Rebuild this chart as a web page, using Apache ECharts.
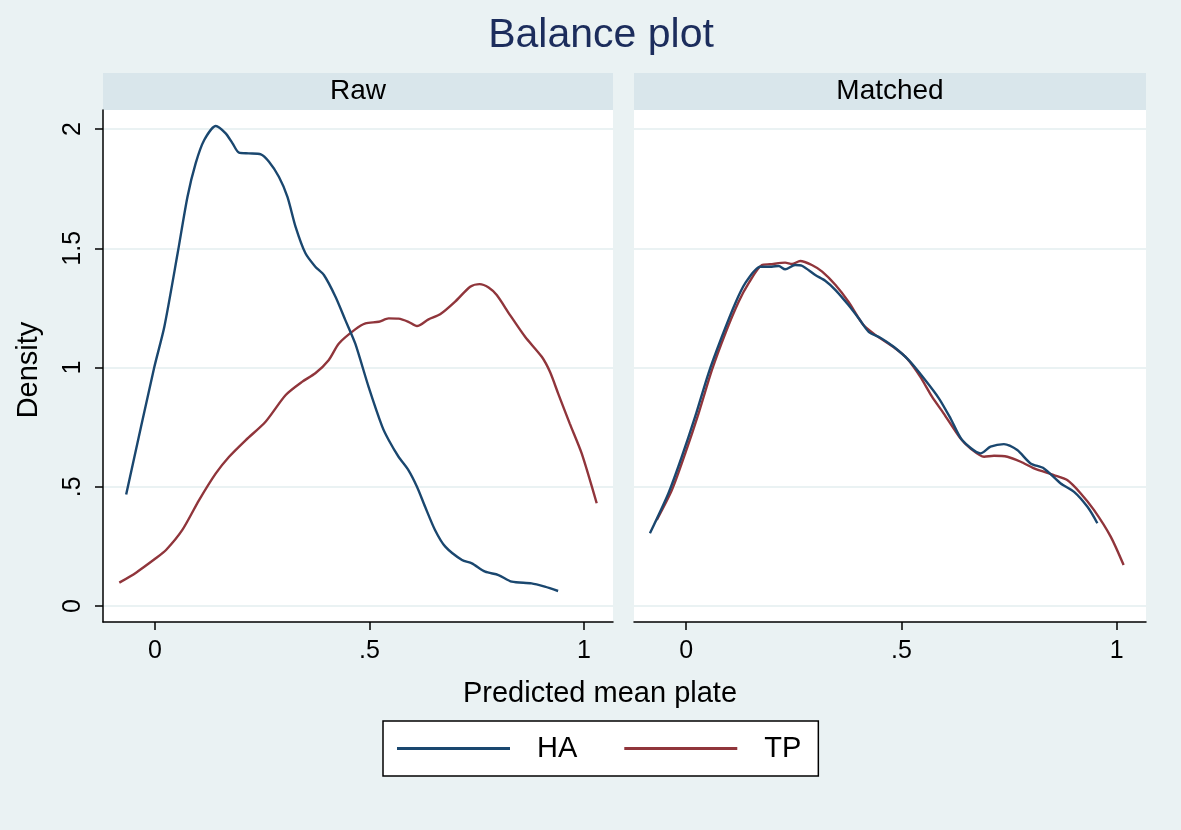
<!DOCTYPE html>
<html><head><meta charset="utf-8">
<script src="https://cdn.jsdelivr.net/npm/echarts@6/dist/echarts.min.js"></script>
<style>html,body{margin:0;padding:0;background:#eaf2f3}#c{width:1181px;height:830px}</style>
</head><body><div id="c"></div>
<script>
const panels = ['Raw', 'Matched'];
const seriesNames = ['HA', 'TP'];
const xTicks = [0, 0.5, 1];
const yTicks = [0, 0.5, 1, 1.5, 2];
const xTickLabels = {0: '0', 0.5: '.5', 1: '1'};
const yTickLabels = {0: '0', 0.5: '.5', 1: '1', 1.5: '1.5', 2: '2'};

const rawHA = [[-0.067,0.468],[-0.002,0.997],[0.022,1.171],[0.053,1.479],[0.076,1.716],[0.095,1.856],[0.115,1.954],[0.142,2.013],[0.165,1.982],[0.181,1.94],[0.196,1.901],[0.219,1.898],[0.247,1.894],[0.266,1.863],[0.289,1.80],[0.309,1.716],[0.328,1.590],[0.351,1.479],[0.374,1.423],[0.394,1.388],[0.421,1.297],[0.444,1.199],[0.467,1.101],[0.498,0.92],[0.530,0.752],[0.545,0.696],[0.568,0.626],[0.591,0.570],[0.611,0.500],[0.630,0.416],[0.653,0.319],[0.677,0.249],[0.716,0.193],[0.739,0.179],[0.770,0.144],[0.801,0.130],[0.832,0.102],[0.878,0.095],[0.909,0.081],[0.940,0.063]];
const rawTP = [[-0.083,0.098],[-0.044,0.14],[0.002,0.20],[0.026,0.235],[0.064,0.319],[0.103,0.444],[0.142,0.556],[0.173,0.626],[0.212,0.696],[0.258,0.773],[0.305,0.885],[0.343,0.940],[0.374,0.976],[0.405,1.031],[0.429,1.101],[0.467,1.160],[0.491,1.185],[0.522,1.192],[0.545,1.206],[0.568,1.205],[0.591,1.192],[0.611,1.174],[0.638,1.202],[0.665,1.223],[0.700,1.276],[0.735,1.339],[0.757,1.350],[0.778,1.336],[0.797,1.304],[0.828,1.220],[0.863,1.129],[0.902,1.045],[0.921,0.982],[0.940,0.892],[0.967,0.766],[0.995,0.640],[1.030,0.431]];
const matchedHA = [[-0.084,0.305],[-0.041,0.473],[-0.010,0.626],[0.021,0.794],[0.052,0.976],[0.083,1.129],[0.114,1.269],[0.137,1.353],[0.172,1.423],[0.199,1.423],[0.215,1.426],[0.230,1.412],[0.253,1.430],[0.269,1.427],[0.300,1.388],[0.323,1.364],[0.347,1.325],[0.377,1.262],[0.401,1.206],[0.424,1.150],[0.451,1.125],[0.482,1.087],[0.517,1.031],[0.552,0.955],[0.587,0.871],[0.614,0.787],[0.641,0.696],[0.684,0.640],[0.707,0.668],[0.738,0.679],[0.769,0.654],[0.800,0.598],[0.831,0.577],[0.870,0.514],[0.901,0.479],[0.932,0.416],[0.955,0.347]];
const matchedTP = [[-0.068,0.361],[-0.033,0.486],[-0.002,0.640],[0.029,0.808],[0.060,0.990],[0.091,1.143],[0.122,1.276],[0.145,1.353],[0.176,1.430],[0.195,1.433],[0.230,1.440],[0.246,1.434],[0.265,1.447],[0.292,1.430],[0.316,1.402],[0.347,1.346],[0.377,1.276],[0.412,1.178],[0.440,1.136],[0.486,1.080],[0.513,1.038],[0.544,0.961],[0.571,0.878],[0.598,0.808],[0.637,0.703],[0.660,0.661],[0.692,0.626],[0.715,0.630],[0.746,0.626],[0.777,0.605],[0.808,0.577],[0.854,0.549],[0.885,0.528],[0.916,0.473],[0.947,0.403],[0.986,0.291],[1.016,0.172]];

const FONT = '"Liberation Sans", Arial, Helvetica, sans-serif';
const NAVY = '#1a476f', MAROON = '#90353b';
const grids = [
  {left: 103, top: 110, width: 510, height: 512},
  {left: 634, top: 110, width: 512, height: 512}
];
const xMin = -0.121, xMax = 1.068, yMin = -0.067, yMax = 2.08;

function xAxis(i) {
  return {
    gridIndex: i, type: 'value', min: xMin, max: xMax,
    axisLine: {show: true, onZero: false, lineStyle: {color: '#000', width: 1.5}},
    axisTick: {show: true, length: 8, customValues: xTicks, lineStyle: {color: '#000', width: 1.5}},
    axisLabel: {customValues: xTicks, formatter: v => xTickLabels[v] ?? String(v), color: '#000', fontFamily: FONT, fontSize: 25, margin: 17},
    splitLine: {show: false}
  };
}
function yAxis(i) {
  return {
    gridIndex: i, type: 'value', min: yMin, max: yMax,
    axisLine: {show: i === 0, onZero: false, lineStyle: {color: '#000', width: 1.5}},
    axisTick: {show: i === 0, length: 8, customValues: yTicks, lineStyle: {color: '#000', width: 1.5}},
    axisLabel: {show: i === 0, customValues: yTicks, rotate: 90, formatter: v => yTickLabels[v] ?? String(v), color: '#000', fontFamily: FONT, fontSize: 25, margin: 17},
    splitLine: {show: true, lineStyle: {color: '#eaf2f3', width: 2}}
  };
}
const data = [[rawHA, rawTP], [matchedHA, matchedTP]];
const series = [];
for (let p = 0; p < 2; p++) {
  for (let s = 0; s < 2; s++) {
    series.push({
      name: seriesNames[s], type: 'line', xAxisIndex: p, yAxisIndex: p,
      data: data[p][s], showSymbol: false, smooth: 0.25,
      lineStyle: {color: s === 0 ? NAVY : MAROON, width: 2.4},
      itemStyle: {color: s === 0 ? NAVY : MAROON},
      z: s === 0 ? 3 : 2
    });
  }
}
const graphics = [];
grids.forEach((g, i) => {
  graphics.push({type: 'rect', shape: {x: g.left, y: g.top, width: g.width, height: g.height}, style: {fill: '#ffffff'}, z: -10, silent: true});
  graphics.push({type: 'rect', shape: {x: g.left, y: 73, width: g.width, height: 37}, style: {fill: '#d9e6eb'}, z: -10, silent: true});
  graphics.push({type: 'text', x: g.left + g.width / 2, y: 91, style: {text: panels[i], font: '28px ' + FONT, fill: '#000', align: 'center', verticalAlign: 'middle'}, z: 5});
});
graphics.push({type: 'text', x: 601, y: 36, style: {text: 'Balance plot', font: '41px ' + FONT, fill: '#1c2d5c', align: 'center', verticalAlign: 'middle'}});
graphics.push({type: 'text', x: 600, y: 694, style: {text: 'Predicted mean plate', font: '29px ' + FONT, fill: '#000', align: 'center', verticalAlign: 'middle'}});
graphics.push({type: 'text', x: 29, y: 370, rotation: Math.PI / 2, style: {text: 'Density', font: '29px ' + FONT, fill: '#000', align: 'center', verticalAlign: 'middle'}});

const chart = echarts.init(document.getElementById('c'), null, {renderer: 'canvas'});
chart.setOption({
  backgroundColor: '#eaf2f3',
  animation: false,
  grid: grids.map(g => Object.assign({containLabel: false}, g)),
  xAxis: [xAxis(0), xAxis(1)],
  yAxis: [yAxis(0), yAxis(1)],
  legend: {
    data: seriesNames, left: 383, top: 721, orient: 'horizontal',
    backgroundColor: '#fff', borderColor: '#000', borderWidth: 1.5, borderRadius: 0,
    padding: [13, 17, 13, 14], itemGap: 47, itemWidth: 113, itemHeight: 3, icon: 'rect',
    textStyle: {fontFamily: FONT, fontSize: 29, color: '#000', padding: [0, 0, 0, 22]},
    selectedMode: false
  },
  graphic: graphics,
  series: series
});
</script></body></html>
